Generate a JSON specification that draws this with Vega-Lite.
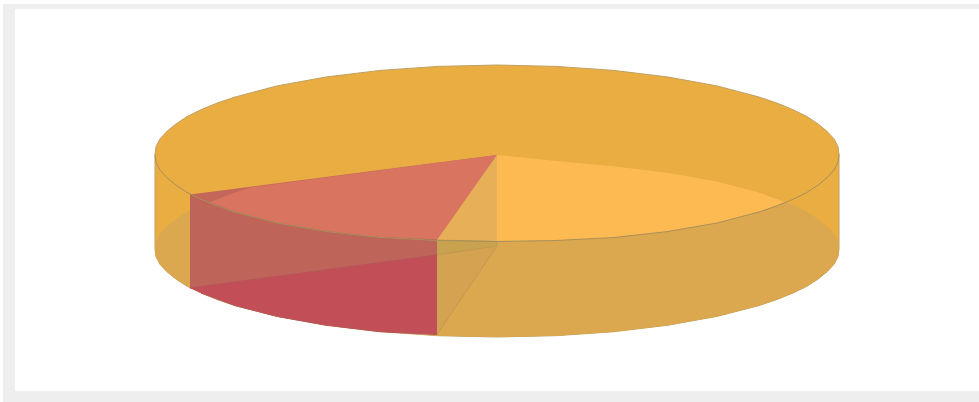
{
"$schema":"https://vega.github.io/schema/vega-lite/v6.json",
"width":979,"height":402,"padding":0,"autosize":{"type":"none"},"background":"#ffffff",
"config":{"view":{"stroke":null}},
"data":{"values":[
{"s":"a_frame","o":1,"x":3,"y":4},{"s":"a_frame","o":2,"x":979,"y":4},{"s":"a_frame","o":3,"x":979,"y":402},{"s":"a_frame","o":4,"x":3,"y":402},
{"s":"b_panel","o":1,"x":15,"y":9},{"s":"b_panel","o":2,"x":979,"y":9},{"s":"b_panel","o":3,"x":979,"y":391},{"s":"b_panel","o":4,"x":15,"y":391},
{"s":"c_body","o":1,"x":155,"y":154.5},{"s":"c_body","o":1.5,"x":156,"y":146.7},{"s":"c_body","o":2,"x":160,"y":138.9},{"s":"c_body","o":2.5,"x":167,"y":131.3},{"s":"c_body","o":3,"x":176,"y":123.9},{"s":"c_body","o":3.5,"x":187,"y":116.6},{"s":"c_body","o":4,"x":201,"y":109.7},{"s":"c_body","o":4.5,"x":217,"y":103.1},{"s":"c_body","o":5,"x":235,"y":97},{"s":"c_body","o":6,"x":277,"y":85.9},{"s":"c_body","o":7,"x":326,"y":77},{"s":"c_body","o":8,"x":380,"y":70.4},{"s":"c_body","o":9,"x":438,"y":66.4},{"s":"c_body","o":10,"x":497,"y":65},{"s":"c_body","o":11,"x":556,"y":66.4},{"s":"c_body","o":12,"x":614,"y":70.4},{"s":"c_body","o":13,"x":668,"y":77},{"s":"c_body","o":14,"x":717,"y":85.9},{"s":"c_body","o":15,"x":759,"y":97},{"s":"c_body","o":15.5,"x":777,"y":103.1},{"s":"c_body","o":16,"x":793,"y":109.7},{"s":"c_body","o":16.5,"x":807,"y":116.6},{"s":"c_body","o":17,"x":818,"y":123.9},{"s":"c_body","o":17.5,"x":827,"y":131.3},{"s":"c_body","o":18,"x":834,"y":138.9},{"s":"c_body","o":18.5,"x":838,"y":146.7},{"s":"c_body","o":19,"x":839,"y":154.5},{"s":"c_body","o":20,"x":839,"y":249},{"s":"c_body","o":20.5,"x":838,"y":256.7},{"s":"c_body","o":21,"x":834,"y":264.3},{"s":"c_body","o":21.5,"x":827,"y":271.8},{"s":"c_body","o":22,"x":818,"y":279.1},{"s":"c_body","o":22.5,"x":807,"y":286.2},{"s":"c_body","o":23,"x":793,"y":293},{"s":"c_body","o":23.5,"x":777,"y":299.5},{"s":"c_body","o":24,"x":759,"y":305.6},{"s":"c_body","o":25,"x":717,"y":316.4},{"s":"c_body","o":26,"x":668,"y":325.2},{"s":"c_body","o":27,"x":614,"y":331.7},{"s":"c_body","o":28,"x":556,"y":335.7},{"s":"c_body","o":29,"x":497,"y":337},{"s":"c_body","o":30,"x":438,"y":335.7},{"s":"c_body","o":31,"x":380,"y":331.7},{"s":"c_body","o":32,"x":326,"y":325.2},{"s":"c_body","o":33,"x":277,"y":316.4},{"s":"c_body","o":34,"x":235,"y":305.6},{"s":"c_body","o":34.5,"x":217,"y":299.5},{"s":"c_body","o":35,"x":201,"y":293},{"s":"c_body","o":35.5,"x":187,"y":286.2},{"s":"c_body","o":36,"x":176,"y":279.1},{"s":"c_body","o":36.5,"x":167,"y":271.8},{"s":"c_body","o":37,"x":160,"y":264.3},{"s":"c_body","o":37.5,"x":156,"y":256.7},{"s":"c_body","o":38,"x":155,"y":249},{"s":"c_body","o":39,"x":155,"y":154.5},
{"s":"d_floor","o":1,"x":155,"y":249},{"s":"d_floor","o":1.5,"x":156,"y":241.3},{"s":"d_floor","o":2,"x":160,"y":233.7},{"s":"d_floor","o":2.5,"x":167,"y":226.2},{"s":"d_floor","o":3,"x":176,"y":218.9},{"s":"d_floor","o":3.5,"x":187,"y":211.8},{"s":"d_floor","o":4,"x":201,"y":205},{"s":"d_floor","o":4.5,"x":217,"y":198.5},{"s":"d_floor","o":5,"x":235,"y":192.4},{"s":"d_floor","o":6,"x":277,"y":181.6},{"s":"d_floor","o":7,"x":326,"y":172.8},{"s":"d_floor","o":8,"x":380,"y":166.3},{"s":"d_floor","o":9,"x":438,"y":162.3},{"s":"d_floor","o":10,"x":497,"y":161},{"s":"d_floor","o":11,"x":556,"y":162.3},{"s":"d_floor","o":12,"x":614,"y":166.3},{"s":"d_floor","o":13,"x":668,"y":172.8},{"s":"d_floor","o":14,"x":717,"y":181.6},{"s":"d_floor","o":15,"x":759,"y":192.4},{"s":"d_floor","o":15.5,"x":777,"y":198.5},{"s":"d_floor","o":16,"x":793,"y":205},{"s":"d_floor","o":16.5,"x":807,"y":211.8},{"s":"d_floor","o":17,"x":818,"y":218.9},{"s":"d_floor","o":17.5,"x":827,"y":226.2},{"s":"d_floor","o":18,"x":834,"y":233.7},{"s":"d_floor","o":18.5,"x":838,"y":241.3},{"s":"d_floor","o":19,"x":839,"y":249},{"s":"d_floor","o":19.5,"x":838,"y":256.7},{"s":"d_floor","o":20,"x":834,"y":264.3},{"s":"d_floor","o":20.5,"x":827,"y":271.8},{"s":"d_floor","o":21,"x":818,"y":279.1},{"s":"d_floor","o":21.5,"x":807,"y":286.2},{"s":"d_floor","o":22,"x":793,"y":293},{"s":"d_floor","o":22.5,"x":777,"y":299.5},{"s":"d_floor","o":23,"x":759,"y":305.6},{"s":"d_floor","o":24,"x":717,"y":316.4},{"s":"d_floor","o":25,"x":668,"y":325.2},{"s":"d_floor","o":26,"x":614,"y":331.7},{"s":"d_floor","o":27,"x":556,"y":335.7},{"s":"d_floor","o":28,"x":497,"y":337},{"s":"d_floor","o":29,"x":438,"y":335.7},{"s":"d_floor","o":30,"x":380,"y":331.7},{"s":"d_floor","o":31,"x":326,"y":325.2},{"s":"d_floor","o":32,"x":277,"y":316.4},{"s":"d_floor","o":33,"x":235,"y":305.6},{"s":"d_floor","o":33.5,"x":217,"y":299.5},{"s":"d_floor","o":34,"x":201,"y":293},{"s":"d_floor","o":34.5,"x":187,"y":286.2},{"s":"d_floor","o":35,"x":176,"y":279.1},{"s":"d_floor","o":35.5,"x":167,"y":271.8},{"s":"d_floor","o":36,"x":160,"y":264.3},{"s":"d_floor","o":36.5,"x":156,"y":256.7},{"s":"d_floor","o":37,"x":155,"y":249},
{"s":"dz_patch","o":1,"x":497,"y":154},{"s":"dz_patch","o":2,"x":250,"y":187},{"s":"dz_patch","o":3,"x":277,"y":181.6},{"s":"dz_patch","o":4,"x":326,"y":172.8},{"s":"dz_patch","o":5,"x":380,"y":166.3},{"s":"dz_patch","o":6,"x":438,"y":161},{"s":"dz_patch","o":7,"x":497,"y":160},
{"s":"e_lens","o":1,"x":497,"y":155},{"s":"e_lens","o":2,"x":556,"y":161},{"s":"e_lens","o":3,"x":614,"y":166.3},{"s":"e_lens","o":4,"x":668,"y":172.8},{"s":"e_lens","o":5,"x":717,"y":181.6},{"s":"e_lens","o":6,"x":759,"y":192.4},{"s":"e_lens","o":7,"x":785,"y":202},{"s":"e_lens","o":8,"x":759,"y":212},{"s":"e_lens","o":9,"x":717,"y":223},{"s":"e_lens","o":10,"x":668,"y":231.5},{"s":"e_lens","o":11,"x":614,"y":237.5},{"s":"e_lens","o":12,"x":556,"y":240.5},{"s":"e_lens","o":13,"x":497,"y":241.5},
{"s":"f_redtop","o":1,"x":497,"y":155},{"s":"f_redtop","o":2,"x":190,"y":194.5},{"s":"f_redtop","o":3,"x":201,"y":199.3},{"s":"f_redtop","o":4,"x":235,"y":212},{"s":"f_redtop","o":5,"x":277,"y":223},{"s":"f_redtop","o":6,"x":326,"y":231.5},{"s":"f_redtop","o":7,"x":380,"y":237.5},{"s":"f_redtop","o":8,"x":437,"y":240},
{"s":"g_redlight","o":1,"x":497,"y":155},{"s":"g_redlight","o":2,"x":250,"y":187.5},{"s":"g_redlight","o":3,"x":235,"y":192.4},{"s":"g_redlight","o":4,"x":209,"y":202.5},{"s":"g_redlight","o":5,"x":235,"y":212},{"s":"g_redlight","o":6,"x":277,"y":223},{"s":"g_redlight","o":7,"x":326,"y":231.5},{"s":"g_redlight","o":8,"x":380,"y":237.5},{"s":"g_redlight","o":9,"x":437,"y":240},
{"s":"h_redwall","o":1,"x":190,"y":194.5},{"s":"h_redwall","o":2,"x":201,"y":199.3},{"s":"h_redwall","o":3,"x":235,"y":212},{"s":"h_redwall","o":4,"x":277,"y":223},{"s":"h_redwall","o":5,"x":326,"y":231.5},{"s":"h_redwall","o":6,"x":380,"y":237.5},{"s":"h_redwall","o":7,"x":437,"y":240},{"s":"h_redwall","o":8,"x":437,"y":255},{"s":"h_redwall","o":9,"x":190,"y":288},
{"s":"i_redlow","o":1,"x":190,"y":288},{"s":"i_redlow","o":2,"x":437,"y":255},{"s":"i_redlow","o":3,"x":437,"y":334.5},{"s":"i_redlow","o":4,"x":380,"y":331.7},{"s":"i_redlow","o":5,"x":326,"y":325.2},{"s":"i_redlow","o":6,"x":277,"y":316.4},{"s":"i_redlow","o":7,"x":235,"y":305.6},{"s":"i_redlow","o":8,"x":201,"y":293},
{"s":"j_tri","o":1,"x":497,"y":155},{"s":"j_tri","o":2,"x":437,"y":240},{"s":"j_tri","o":3,"x":497,"y":241.5},
{"s":"k_band","o":1,"x":437,"y":240},{"s":"k_band","o":2,"x":497,"y":241.5},{"s":"k_band","o":3,"x":497,"y":246},{"s":"k_band","o":4,"x":437,"y":255},
{"s":"l_cut","o":1,"x":437,"y":255},{"s":"l_cut","o":2,"x":497,"y":246},{"s":"l_cut","o":3,"x":437,"y":334.5},
{"s":"m_rim","o":1,"x":155,"y":154.5},{"s":"m_rim","o":1.5,"x":156,"y":162.3},{"s":"m_rim","o":2,"x":160,"y":170.1},{"s":"m_rim","o":2.5,"x":167,"y":177.7},{"s":"m_rim","o":3,"x":176,"y":185.1},{"s":"m_rim","o":3.5,"x":187,"y":192.4},{"s":"m_rim","o":4,"x":201,"y":199.3},{"s":"m_rim","o":4.5,"x":217,"y":205.9},{"s":"m_rim","o":5,"x":235,"y":212},{"s":"m_rim","o":6,"x":277,"y":223},{"s":"m_rim","o":7,"x":326,"y":231.5},{"s":"m_rim","o":8,"x":380,"y":237.5},{"s":"m_rim","o":9,"x":438,"y":240.5},{"s":"m_rim","o":10,"x":497,"y":241.5},{"s":"m_rim","o":11,"x":556,"y":240.5},{"s":"m_rim","o":12,"x":614,"y":237.5},{"s":"m_rim","o":13,"x":668,"y":231.5},{"s":"m_rim","o":14,"x":717,"y":223},{"s":"m_rim","o":15,"x":759,"y":212},{"s":"m_rim","o":15.5,"x":777,"y":205.9},{"s":"m_rim","o":16,"x":793,"y":199.3},{"s":"m_rim","o":16.5,"x":807,"y":192.4},{"s":"m_rim","o":17,"x":818,"y":185.1},{"s":"m_rim","o":17.5,"x":827,"y":177.7},{"s":"m_rim","o":18,"x":834,"y":170.1},{"s":"m_rim","o":18.5,"x":838,"y":162.3},{"s":"m_rim","o":19,"x":839,"y":154.5}
]},
"mark":{"type":"line","filled":true,"strokeWidth":1,"interpolate":"linear"},
"encoding":{
"x":{"field":"x","type":"quantitative","scale":{"domain":[0,979],"nice":false,"zero":false},"axis":null},
"y":{"field":"y","type":"quantitative","scale":{"domain":[402,0],"nice":false,"zero":false},"axis":null},
"order":{"field":"o","type":"quantitative"},
"detail":{"field":"s"},
"fill":{"field":"s","type":"nominal","legend":null,"scale":{"domain":["a_frame","b_panel","c_body","d_floor","dz_patch","e_lens","f_redtop","g_redlight","h_redwall","i_redlow","j_tri","k_band","l_cut","m_rim"],"range":["#eeeeee","#ffffff","#e9ad42","#dca84f","#e9ad42","#fdba52","#c4675a","#d97460","#be6459","#c24f58","#e7b058","#c9a250","#d3a352","transparent"]}},
"stroke":{"field":"s","type":"nominal","legend":null,"scale":{"domain":["a_frame","b_panel","c_body","d_floor","dz_patch","e_lens","f_redtop","g_redlight","h_redwall","i_redlow","j_tri","k_band","l_cut","m_rim"],"range":["transparent","transparent","#c0a060","transparent","transparent","transparent","transparent","transparent","#b5625a","#b8555c","transparent","#bf9a50","#c49a4e","#a8905a"]}}
}
}
